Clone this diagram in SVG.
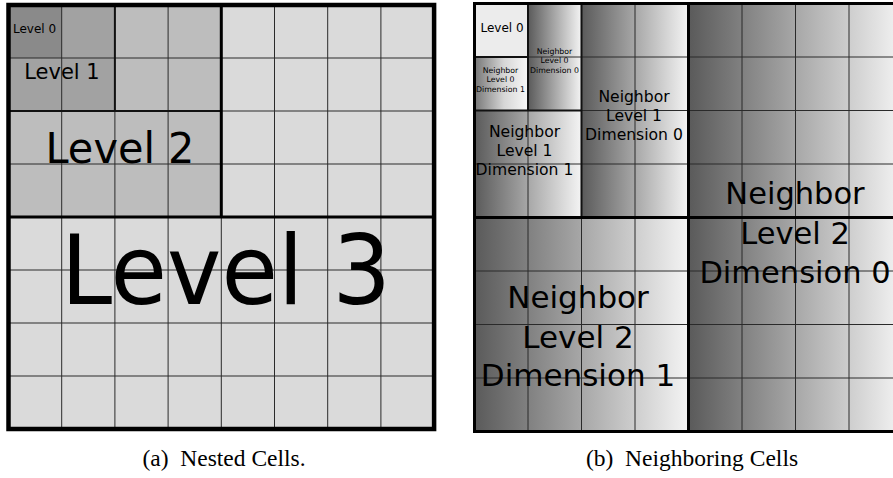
<svg xmlns="http://www.w3.org/2000/svg" width="893" height="478" viewBox="0 0 893 478">
<defs>
<linearGradient id="grad" x1="0" y1="0" x2="1" y2="0">
<stop offset="0" stop-color="#5a5a5a"/>
<stop offset="1" stop-color="#f4f4f4"/>
</linearGradient>
<linearGradient id="gradL" x1="0" y1="0" x2="1" y2="0">
<stop offset="0" stop-color="#767676"/>
<stop offset="0.55" stop-color="#d6d6d6"/>
<stop offset="1" stop-color="#f8f8f8"/>
</linearGradient>
<style>
.lbl{font-family:"DejaVu Sans",sans-serif;fill:#000;text-anchor:middle}
.cap{font-family:"Liberation Serif","Times New Roman",serif;font-size:23.5px;fill:#000;text-anchor:middle}
.thin{stroke:#2a2a2a;stroke-width:1;fill:none}
.mid{stroke:#111;stroke-width:2;fill:none}
.thick{stroke:#000;stroke-width:3;fill:none}
.border{stroke:#000;fill:none}
</style>
</defs>
<rect width="893" height="478" fill="#fff"/>

<!-- Panel (a) -->
<g id="panel-a">
<g id="level3"><rect x="8.5" y="5" width="425.6" height="424" fill="#dadada"/></g>
<g id="level2"><rect x="8.5" y="5" width="212.8" height="212" fill="#bdbdbd"/></g>
<g id="level1"><rect x="8.5" y="5" width="106.4" height="106" fill="#a2a2a2"/></g>
<g id="level0"><rect x="8.5" y="5" width="53.2" height="53" fill="#8a8a8a"/></g>
</g>

<!-- Panel (b) -->
<g id="panel-b">
<g id="b-level0"><rect x="474.5" y="3.5" width="53.5" height="53.5" fill="#ececec"/></g>
<g id="b-n0d1"><rect x="474.5" y="57" width="53.5" height="53.5" fill="url(#gradL)"/></g>
<g id="b-n0d0"><rect x="528" y="3.5" width="53.5" height="107" fill="url(#grad)"/></g>
<g id="b-n1d0"><rect x="581.5" y="3.5" width="107" height="214" fill="url(#grad)"/></g>
<g id="b-n1d1"><rect x="474.5" y="110.5" width="107" height="107" fill="url(#grad)"/></g>
<g id="b-n2d0"><rect x="688.5" y="3.5" width="214" height="428" fill="url(#grad)"/></g>
<g id="b-n2d1"><rect x="474.5" y="217.5" width="214" height="214" fill="url(#grad)"/></g>
</g>

<g id="grid-lines">
<!-- panel a thin -->
<path class="thin" d="M61.7 5V429M168.1 5V429M274.5 5V429M327.7 5V429M380.9 5V429M114.9 111V429M221.3 217V429M8.5 58H434.1M8.5 164H434.1M8.5 270H434.1M8.5 323H434.1M8.5 376H434.1M221.3 111H434.1"/>
<path class="mid" d="M114.9 5V111M8.5 111H221.3"/>
<path class="thick" d="M221.3 5V217M8.5 217H434.1"/>
<rect class="border" x="8.5" y="5" width="425.6" height="424" stroke-width="4.5"/>
<!-- panel b -->
<path class="thin" d="M528 110.5V431.5M635 3.5V431.5M742 3.5V431.5M795.5 3.5V431.5M849 3.5V431.5M581.5 217.5V431.5M528 57H902.5M581.5 110.5H902.5M474.5 164H902.5M474.5 271H902.5M474.5 324.5H902.5M474.5 378H902.5"/>
<path class="mid" d="M581.5 3.5V217.5M474.5 110.5H581.5M474.5 57H528M528 3.5V110.5"/>
<path class="thick" d="M688.5 3.5V431.5M474.5 217.5H902.5"/>
<rect class="border" x="474.5" y="3.5" width="428" height="428" stroke-width="3"/>
</g>

<g id="labels">
<text class="lbl" x="34.5" y="33" font-size="12">Level 0</text>
<text class="lbl" x="62" y="79" font-size="21">Level 1</text>
<text class="lbl" x="120" y="163" font-size="43" textLength="149" lengthAdjust="spacingAndGlyphs">Level 2</text>
<text class="lbl" x="226" y="304" font-size="97" textLength="330" lengthAdjust="spacingAndGlyphs">Level 3</text>

<text class="lbl" x="502" y="32" font-size="12">Level 0</text>
<text class="lbl" font-size="7.8" fill="#222"><tspan x="554.5" y="54">Neighbor</tspan><tspan x="554.5" y="63.3">Level 0</tspan><tspan x="554.5" y="72.7">Dimension 0</tspan></text>
<text class="lbl" font-size="7.8" fill="#222"><tspan x="500.5" y="72.7">Neighbor</tspan><tspan x="500.5" y="82">Level 0</tspan><tspan x="500.5" y="91.7">Dimension 1</tspan></text>
<text class="lbl" font-size="15.6"><tspan x="634" y="101.7">Neighbor</tspan><tspan x="634" y="120.7">Level 1</tspan><tspan x="634" y="140">Dimension 0</tspan></text>
<text class="lbl" font-size="15.6"><tspan x="524.5" y="136.7">Neighbor</tspan><tspan x="524.5" y="156">Level 1</tspan><tspan x="524.5" y="175">Dimension 1</tspan></text>
<text class="lbl" font-size="30.5"><tspan x="795" y="204">Neighbor</tspan><tspan x="795" y="244">Level 2</tspan><tspan x="795" y="283">Dimension 0</tspan></text>
<text class="lbl" font-size="31"><tspan x="578" y="308">Neighbor</tspan><tspan x="578" y="348">Level 2</tspan><tspan x="578" y="386">Dimension 1</tspan></text>
</g>

<g id="captions">
<text class="cap" x="224" y="466" xml:space="preserve">(a)  Nested Cells.</text>
<text class="cap" x="692" y="466" xml:space="preserve">(b)  Neighboring Cells</text>
</g>
</svg>
